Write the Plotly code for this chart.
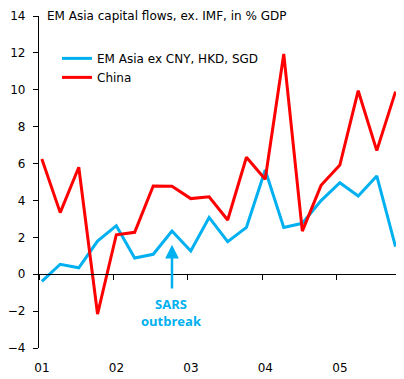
import pandas as pd
import plotly.graph_objects as go

quarters = ["2001Q1","2001Q2","2001Q3","2001Q4","2002Q1","2002Q2","2002Q3","2002Q4",
            "2003Q1","2003Q2","2003Q3","2003Q4","2004Q1","2004Q2","2004Q3","2004Q4",
            "2005Q1","2005Q2","2005Q3","2005Q4"]
em_asia = [-0.39, 0.54, 0.35, 1.80, 2.63, 0.88, 1.08, 2.34, 1.26, 3.08, 1.76, 2.54,
           5.65, 2.54, 2.76, 3.99, 4.96, 4.24, 5.33, 1.49]
china = [6.25, 3.34, 5.80, -2.16, 2.14, 2.27, 4.78, 4.77, 4.10, 4.20, 2.94, 6.34,
         5.15, 11.94, 2.34, 4.82, 5.92, 9.95, 6.70, 9.90]
year_ticks = ["2001-01-01", "2002-01-01", "2003-01-01", "2004-01-01", "2005-01-01"]
year_labels = ["01", "02", "03", "04", "05"]
y_ticks = [-4, -2, 0, 2, 4, 6, 8, 10, 12, 14]

dates = pd.PeriodIndex(quarters, freq="Q").start_time + pd.Timedelta(days=14)

BLUE = "#00B0F0"
RED = "#FF0000"
FONT = "DejaVu Sans"
FONT_B = "Open Sans"

fig = go.Figure()
fig.add_trace(go.Scatter(x=dates, y=em_asia, mode="lines", name="EM Asia ex CNY, HKD, SGD",
                         line=dict(color=BLUE, width=3)))
fig.add_trace(go.Scatter(x=dates, y=china, mode="lines", name="China",
                         line=dict(color=RED, width=3)))
# invisible trace to carry the zero-line axis
fig.add_trace(go.Scatter(x=dates, y=china, xaxis="x2", mode="lines", showlegend=False,
                         line=dict(width=0), hoverinfo="skip", opacity=0))

y_min, y_max = -4, 14
x_range = ["2001-01-01", "2005-11-01"]

fig.update_layout(
    width=396, height=371,
    margin=dict(l=31, r=5, t=8, b=31),
    paper_bgcolor="white", plot_bgcolor="white",
    font=dict(family=FONT, size=12, color="#000000"),
    showlegend=True,
    legend=dict(x=0.05, y=0.916, xanchor="left", yanchor="top",
                bgcolor="rgba(0,0,0,0)", font=dict(size=12, family=FONT),
                itemwidth=30, tracegroupgap=0),
    xaxis=dict(type="date", range=x_range, tickvals=year_ticks, ticktext=year_labels,
               showgrid=False, zeroline=False, showline=False, ticks="",
               automargin=False, ticklabelshift=3,
               tickfont=dict(size=12, family=FONT), ticklabelstandoff=11),
    xaxis2=dict(type="date", matches="x", overlaying="x", anchor="free",
                position=(0 - y_min) / (y_max - y_min), side="bottom",
                tickvals=year_ticks, showticklabels=False, showgrid=False,
                zeroline=False, showline=True, linecolor="black", linewidth=1.3,
                ticks="outside", ticklen=5, tickcolor="black", tickwidth=1.3,
                automargin=False),
    yaxis=dict(range=[y_min, y_max], tickvals=y_ticks, showgrid=False, zeroline=False,
               showline=True, linecolor="black", linewidth=1.3, automargin=False,
               ticks="outside", ticklen=5, tickcolor="black", tickwidth=1.3,
               tickfont=dict(size=12, family=FONT), ticklabelstandoff=5),
)

fig.add_annotation(text="EM Asia capital flows, ex. IMF, in % GDP", xref="paper", yref="paper",
                   x=0.018, y=1.0, xanchor="left", yanchor="middle", showarrow=False,
                   font=dict(size=12, family=FONT, color="black"))

fig.add_annotation(x=dates[7], y=1.6, ax=dates[7], ay=-0.86, xref="x", yref="y",
                   axref="x", ayref="y", text="", showarrow=True, arrowhead=2,
                   arrowsize=1.1, arrowwidth=2.5, arrowcolor=BLUE)
fig.add_annotation(x=dates[7], y=-2.05, xref="x", yref="y", text="<b>SARS<br>outbreak</b>",
                   showarrow=False, yanchor="middle",
                   font=dict(size=13, family=FONT_B, color=BLUE))

fig.write_html("out.html")
